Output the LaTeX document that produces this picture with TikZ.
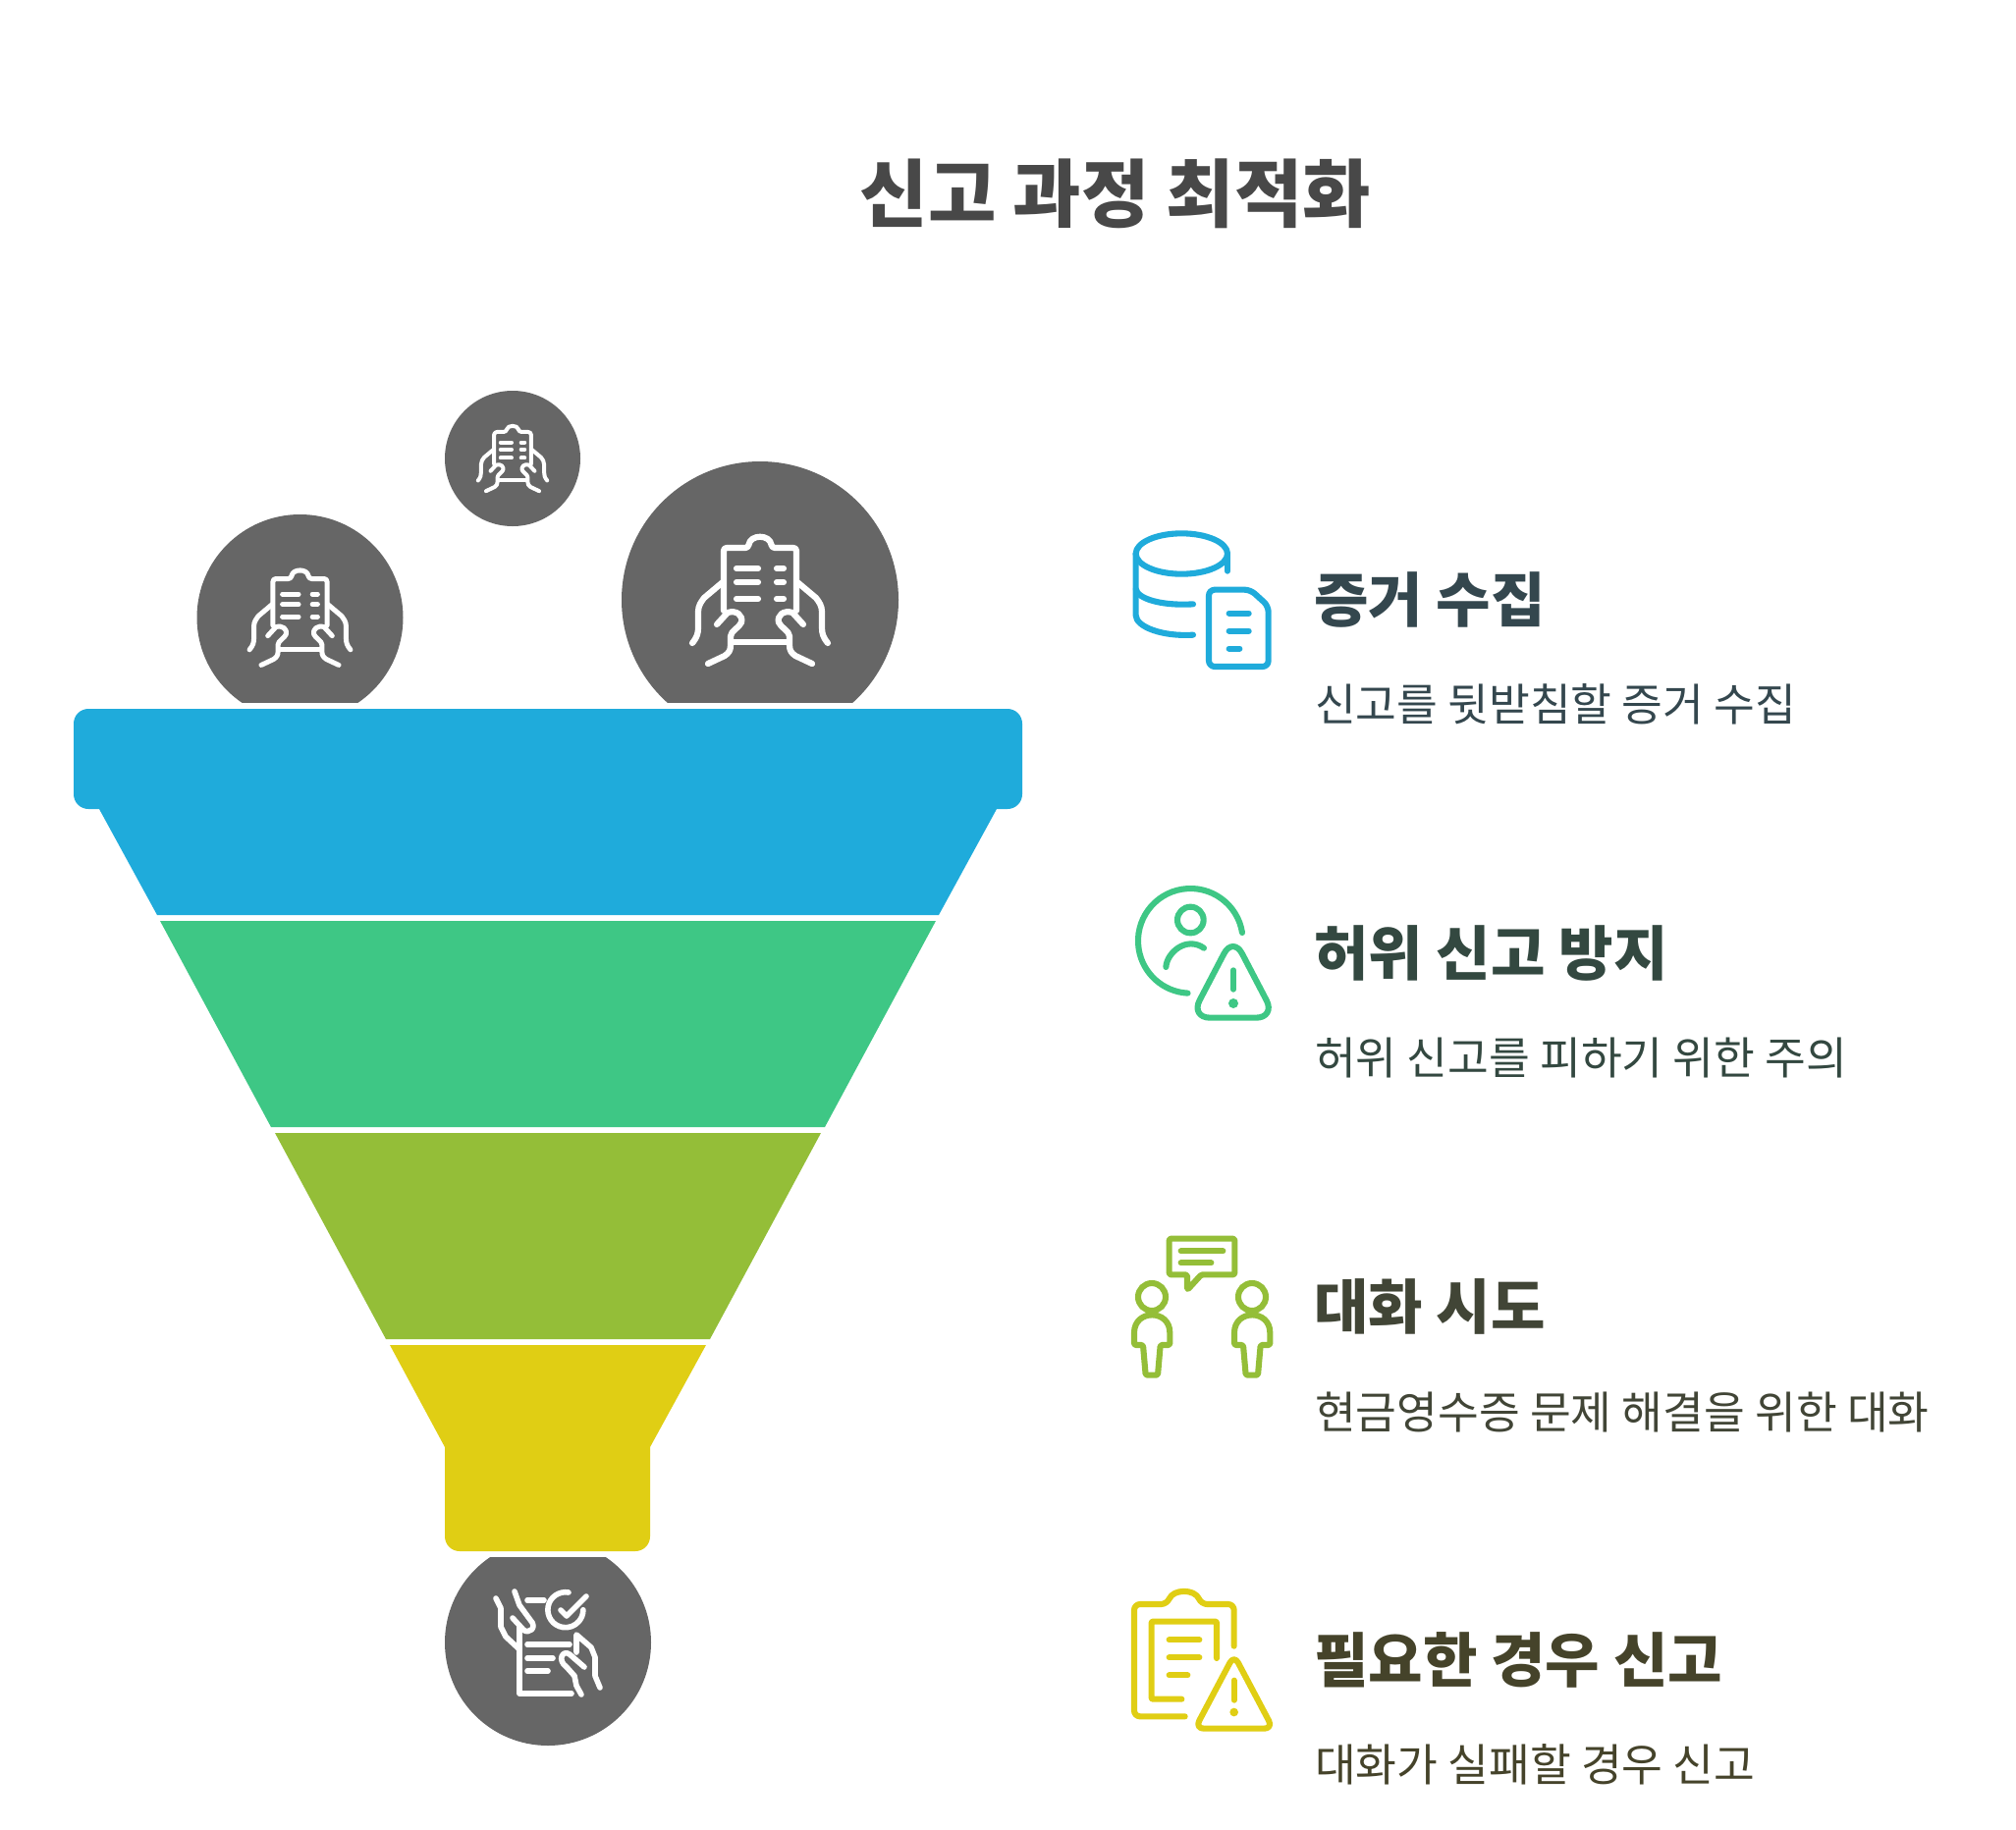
\documentclass[tikz,border=0pt]{standalone}
\usepackage{fontspec}
\setmainfont{Noto Sans CJK KR}
\definecolor{funnelblue}{HTML}{1FABDB}
\definecolor{funnelgreen}{HTML}{3EC785}
\definecolor{funnelolive}{HTML}{94BE38}
\definecolor{funnelyellow}{HTML}{E0CE14}
\definecolor{ballgray}{HTML}{666666}
\definecolor{titlegray}{HTML}{484848}
\definecolor{headblue}{HTML}{34474E}
\definecolor{headgreen}{HTML}{334840}
\definecolor{headolive}{HTML}{414536}
\definecolor{headyellow}{HTML}{45432A}
\tikzset{
  titletext/.style={anchor=base,inner sep=0pt,text=titlegray,font=\fontsize{75.4}{80}\selectfont\bfseries},
  headtext/.style={anchor=base west,inner sep=0pt,font=\fontsize{60.3}{66}\selectfont\bfseries},
  desctext/.style={anchor=base west,inner sep=0pt,font=\fontsize{45.4}{50}\selectfont},
  iconline/.style={line width=6.1pt,line cap=round,line join=round},
  handline/.style={white,line cap=round,line join=round},
  pics/handclip/.style={code={
    \draw[handline,rounded corners=3pt] (-37,11) -- (-37,-53) -- (-12,-53) .. controls (-10,-67) and (10,-67) .. (12,-53) -- (37,-53) -- (37,11);
    \draw[handline] (-27,43) -- (27,43);
    \foreach \y in {-32,-18,-1} {
      \draw[handline] (-24,\y) -- (-2,\y);
      \draw[handline] (17,\y) -- (24,\y);
    }
    \foreach \s in {1,-1} {
      \begin{scope}[xscale=\s]
        \draw[handline] (-69,44) .. controls (-64,38) and (-63,34) .. (-63,28) -- (-63,12) .. controls (-63,6) and (-60,2) .. (-57,-2) -- (-38,-18);
        \draw[handline] (-44,25) -- (-33,13) .. controls (-24,10) and (-17,16) .. (-19,23) .. controls (-21,28) and (-30,32) .. (-30,37) -- (-30,46) .. controls (-30,52) and (-32,54) .. (-36,57) -- (-53,65);
      \end{scope}
    }
  }},
  pics/handcheck/.style={code={
    \draw[handline] (-29,-16) -- (-29,52) -- (24,52);
    \draw[handline] (-21,-43) -- (-4,-43);
    \draw[handline] (-21,2) -- (22,2);
    \draw[handline] (-21,16) -- (5,16);
    \draw[handline] (-21,29) -- (0,29);
    \draw[handline] (21,-51) arc[start angle=-80,end angle=-360,radius=18];
    \draw[handline] (13,-33) -- (19,-27) -- (39,-47);
    \draw[handline] (-53,-45) -- (-48,-35) -- (-48,-16) -- (-43,-6) -- (-29,7);
    \draw[handline] (-34,-52) -- (-29,-38) -- (-18,-23) .. controls (-10,-15) and (-20,-8) .. (-25,-13) -- (-36,-25);
    \draw[handline] (29,10) -- (29,-8) -- (44,5) -- (48,15) -- (48,34) -- (53,46);
    \draw[handline] (37,25) -- (22,12) .. controls (15,7) and (9,18) .. (19,25) -- (27,34) -- (29,44) -- (34,53);
  }}
}
\begin{document}
\begin{tikzpicture}[x=1pt,y=-1pt]
  \useasboundingbox (0,0) rectangle (2053,1863);

  % balls, cut flat where they meet the funnel
  \begin{scope}
    \clip (0,0) rectangle (2053,715.5);
    \fill[ballgray] (305.5,629) circle[radius=105];
    \fill[ballgray] (522,467) circle[radius=69];
    \fill[ballgray] (774,611) circle[radius=141];
  \end{scope}
  \begin{scope}
    \clip (0,1586) rectangle (2053,1863);
    \fill[ballgray] (558,1673) circle[radius=105];
  \end{scope}
  \pic[scale=.745,line width=5pt] at (305.5,629) {handclip};
  \pic[scale=.51,line width=4pt] at (522,467) {handclip};
  \pic[line width=6.2pt] at (774,611) {handclip};
  \pic[line width=5.6pt] at (558,1673) {handcheck};

  % funnel
  \fill[funnelblue] (160,932) -- (101,824) [rounded corners=15pt] -- (75,824) -- (75,722) -- (1041,722) -- (1041,824) [sharp corners] -- (1015,824) -- (956,932) -- cycle;
  \fill[funnelgreen] (163,938) -- (953,938) -- (840,1148) -- (276,1148) -- cycle;
  \fill[funnelolive] (280,1154) -- (836,1154) -- (723,1364) -- (393,1364) -- cycle;
  \fill[funnelyellow] (397,1370) -- (719,1370) -- (662,1474) [rounded corners=15pt] -- (662,1580) -- (453,1580) [sharp corners] -- (453,1474) -- cycle;

  % title
  \node[titletext] (title) at (1136,225) {신고 과정 최적화};

  % rows
  \node[headtext,text=headblue] (head1) at (1338,633) {증거 수집};
  \node[desctext,text=headblue] (desc1) at (1339,734) {신고를 뒷받침할 증거 수집};
  \node[headtext,text=headgreen] (head2) at (1338,993) {허위 신고 방지};
  \node[desctext,text=headgreen] (desc2) at (1339,1094) {허위 신고를 피하기 위한 주의};
  \node[headtext,text=headolive] (head3) at (1338,1353) {대화 시도};
  \node[desctext,text=headolive] (desc3) at (1339,1455) {현금영수증 문제 해결을 위한 대화};
  \node[headtext,text=headyellow] (head4) at (1338,1713) {필요한 경우 신고};
  \node[desctext,text=headyellow] (desc4) at (1339,1814) {대화가 실패할 경우 신고};

  % database and sheet
  \begin{scope}[shift={(1140,530)},scale=1/3,funnelblue,iconline]
    \draw (190,102) ellipse[x radius=140,y radius=62];
    \draw (50,102) -- (50,290) .. controls (50,325) and (130,356) .. (225,350);
    \draw (50,210) .. controls (55,240) and (130,262) .. (225,256);
    \draw (330,102) -- (330,155);
    \draw[rounded corners=6pt] (273,212) -- (400,212) -- (455,262) -- (455,447) -- (273,447) -- cycle;
    \draw (335,284) -- (395,284);
    \draw (335,338) -- (395,338);
    \draw (335,392) -- (367,392);
  \end{scope}

  % person and warning
  \begin{scope}[shift={(1140,895)},scale=1/3,funnelgreen,iconline]
    \draw (375,165) arc[start angle=-9,end angle=-267,radius=160];
    \draw (217,126) circle[radius=40];
    \draw (142,270) .. controls (145,225) and (205,175) .. (258,212);
    \draw[rounded corners=20pt] (347,176) -- (477,425) -- (217,425) -- cycle;
    \draw (348,280) -- (348,338);
    \fill (348,381) circle[radius=15];
  \end{scope}

  % two people talking
  \begin{scope}[shift={(1140,1255)},scale=1/3,funnelolive,iconline]
    \draw[rounded corners=1.5pt] (152,20) -- (352,20) -- (352,130) -- (250,130) -- (207,177) -- (207,130) -- (152,130) -- cycle;
    \draw (188,58) -- (316,58);
    \draw (188,94) -- (280,94);
    \foreach \p in {0,306} {
      \draw (99+\p,198) circle[radius=42];
      \draw[rounded corners=1.5pt] (45+\p,345) -- (45+\p,312) .. controls (45+\p,235) and (154+\p,235) .. (154+\p,312) -- (154+\p,345) -- (125+\p,345) -- (117+\p,437) -- (80+\p,437) -- (72+\p,345) -- cycle;
    }
  \end{scope}

  % clipboard and warning
  \begin{scope}[shift={(1140,1620)},scale=1/3,funnelyellow,iconline]
    \draw[rounded corners=6pt] (200,385) -- (45,385) -- (45,42) -- (145,42) .. controls (165,-5) and (230,-5) .. (250,42) -- (350,42) -- (350,170);
    \draw[rounded corners=1pt] (190,332) -- (98,332) -- (98,95) -- (297,95) -- (297,207);
    \draw (152,151) -- (244,151);
    \draw (152,205) -- (244,205);
    \draw (152,259) -- (208,259);
    \draw[rounded corners=9pt] (350,197) -- (469,422) -- (231,422) -- cycle;
    \draw (350,275) -- (350,335);
    \fill (350,372) circle[radius=13];
  \end{scope}
\end{tikzpicture}
\end{document}
